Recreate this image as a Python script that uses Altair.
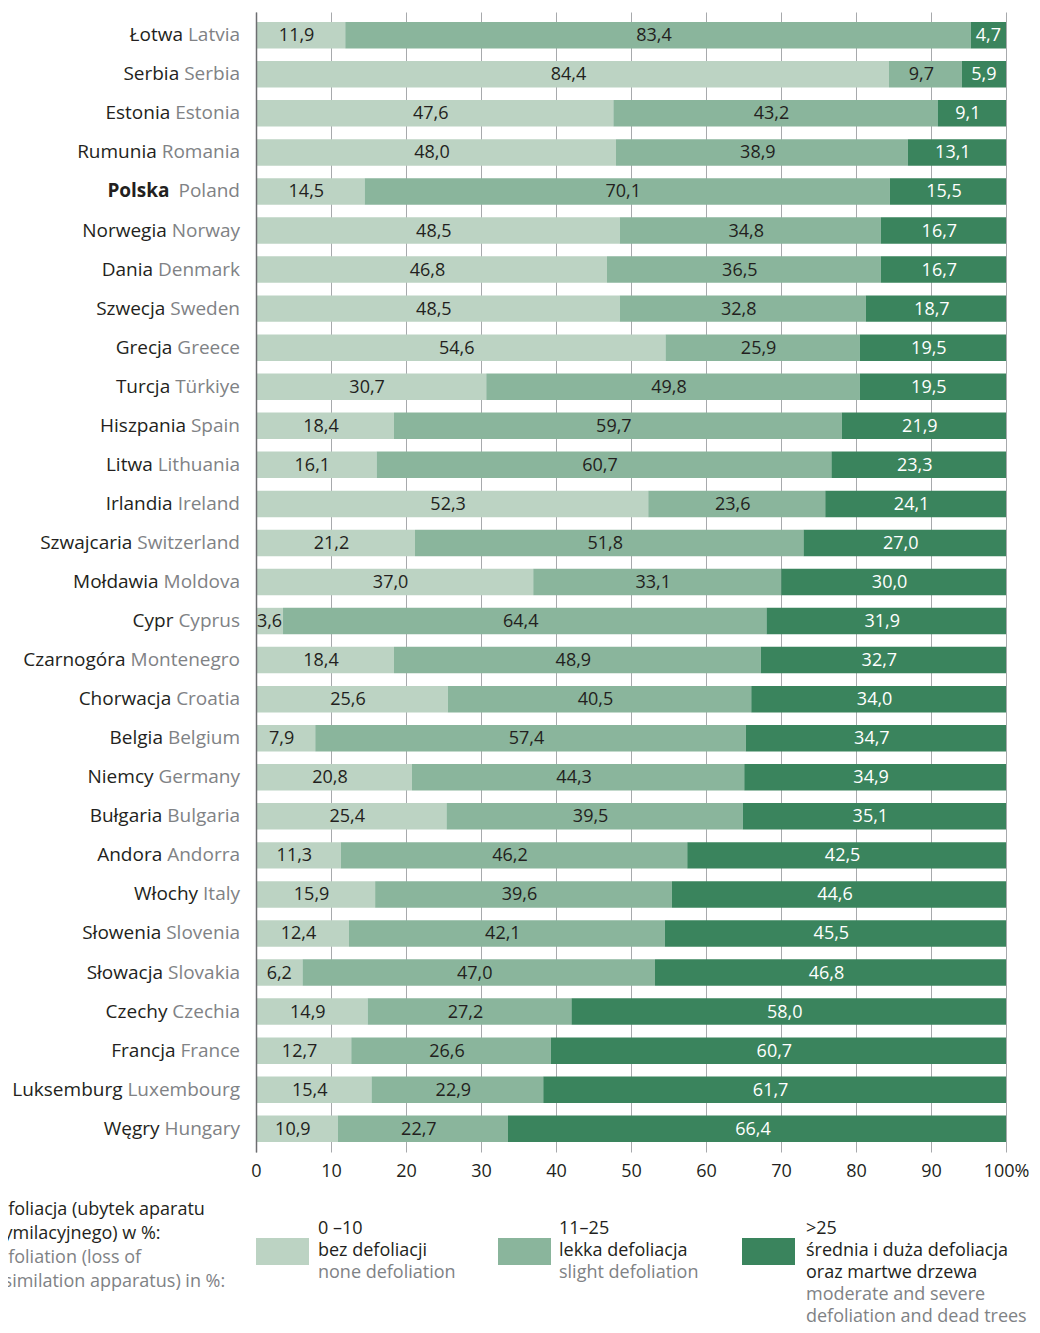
import altair as alt
import pandas as pd

countries_pl = ["Łotwa", "Serbia", "Estonia", "Rumunia", "Polska", "Norwegia", "Dania",
                "Szwecja", "Grecja", "Turcja", "Hiszpania", "Litwa", "Irlandia", "Szwajcaria",
                "Mołdawia", "Cypr", "Czarnogóra", "Chorwacja", "Belgia", "Niemcy", "Bułgaria",
                "Andora", "Włochy", "Słowenia", "Słowacja", "Czechy", "Francja", "Luksemburg",
                "Węgry"]
countries_en = ["Latvia", "Serbia", "Estonia", "Romania", "Poland", "Norway", "Denmark",
                "Sweden", "Greece", "Türkiye", "Spain", "Lithuania", "Ireland", "Switzerland",
                "Moldova", "Cyprus", "Montenegro", "Croatia", "Belgium", "Germany", "Bulgaria",
                "Andorra", "Italy", "Slovenia", "Slovakia", "Czechia", "France", "Luxembourg",
                "Hungary"]
none_def = [11.9, 84.4, 47.6, 48.0, 14.5, 48.5, 46.8, 48.5, 54.6, 30.7, 18.4, 16.1, 52.3, 21.2,
            37.0, 3.6, 18.4, 25.6, 7.9, 20.8, 25.4, 11.3, 15.9, 12.4, 6.2, 14.9, 12.7, 15.4, 10.9]
slight_def = [83.4, 9.7, 43.2, 38.9, 70.1, 34.8, 36.5, 32.8, 25.9, 49.8, 59.7, 60.7, 23.6, 51.8,
              33.1, 64.4, 48.9, 40.5, 57.4, 44.3, 39.5, 46.2, 39.6, 42.1, 47.0, 27.2, 26.6, 22.9, 22.7]
severe_def = [4.7, 5.9, 9.1, 13.1, 15.5, 16.7, 16.7, 18.7, 19.5, 19.5, 21.9, 23.3, 24.1, 27.0,
              30.0, 31.9, 32.7, 34.0, 34.7, 34.9, 35.1, 42.5, 44.6, 45.5, 46.8, 58.0, 60.7, 61.7, 66.4]
categories = ["0–10", "11–25", ">25"]
colors = ["#bcd3c3", "#8ab59c", "#3a845d"]
x_ticks = [0, 10, 20, 30, 40, 50, 60, 70, 80, 90, 100]
bold_country = "Polska"

legend_ranges = ["0 –10", "11–25", ">25"]
legend_pl = [["bez defoliacji"], ["lekka defoliacja"], ["średnia i duża defoliacja", "oraz martwe drzewa"]]
legend_en = [["none defoliation"], ["slight defoliation"], ["moderate and severe", "defoliation and dead trees"]]
legend_title_pl = ["Defoliacja (ubytek aparatu", "asymilacyjnego) w %:"]
legend_title_en = ["Defoliation (loss of", "assimilation apparatus) in %:"]

FONT = "Open Sans"
DARK = "#231f20"
GRAY = "#808285"

rows = []
series = [none_def, slight_def, severe_def]
for i, (pl, en) in enumerate(zip(countries_pl, countries_en)):
    for k, vals in enumerate(series):
        rows.append(dict(pl=pl, en=en, cat=categories[k], order=k, value=vals[i]))
df = pd.DataFrame(rows)
lab = pd.DataFrame({"pl": countries_pl, "en": countries_en,
                    "full": [p + " " + e for p, e in zip(countries_pl, countries_en)]})

yenc = alt.Y("pl:N", sort=countries_pl,
             scale=alt.Scale(paddingInner=0.322, paddingOuter=0.256),
             axis=alt.Axis(labels=False, ticks=False, title=None, grid=False,
                           domainColor="#6d6e71", domainWidth=1.5, zindex=1))

stacked = alt.Chart(df).transform_stack(
    stack="value", groupby=["pl"], as_=["start", "end"], offset="normalize",
    sort=[alt.SortField("order", order="ascending")]
).transform_calculate(
    mid="(datum.start + datum.end) / 2",
    txt="replace(format(datum.value, '.1f'), '.', ',')"
)

bars = stacked.mark_bar().encode(
    x=alt.X("start:Q", scale=alt.Scale(domain=[0, 1], nice=False),
            axis=alt.Axis(values=[t / 100 for t in x_ticks],
                          labelExpr="datum.value >= 0.999 ? '100%' : format(datum.value * 100, 'd')",
                          grid=True, gridColor="#a7a9ac", gridWidth=1, domain=False, ticks=False,
                          labelFontSize=18, labelFont=FONT, labelColor=DARK, labelPadding=10,
                          labelFlush=False, title=None)),
    x2="end:Q",
    y=yenc,
    color=alt.Color("cat:N", scale=alt.Scale(domain=categories, range=colors), legend=None),
)

value_color = alt.condition(alt.datum.cat == ">25", alt.value("white"), alt.value(DARK))
values_small = stacked.transform_filter(alt.datum.value < 6.5).mark_text(
    font=FONT, fontSize=18, baseline="middle", align="center", dy=1
).encode(x="mid:Q", y=yenc, text="txt:N", color=value_color)
values_big = stacked.transform_filter(alt.datum.value >= 6.5).mark_text(
    font=FONT, fontSize=18, baseline="middle", align="center", dy=1, dx=-4
).encode(x="mid:Q", y=yenc, text="txt:N", color=value_color)

lbl = alt.Chart(lab)
names_full = lbl.transform_filter(alt.datum.pl != bold_country).mark_text(
    font=FONT, fontSize=19, align="right", baseline="middle", dx=-16, color=DARK
).encode(x=alt.value(0), y=yenc, text="full:N")
names_full_bold = lbl.transform_filter(alt.datum.pl == bold_country).mark_text(
    font=FONT, fontSize=19, fontWeight="bold", align="right", baseline="middle", dx=-16, color=DARK
).encode(x=alt.value(0), y=yenc, text="full:N")
cover = lbl.mark_text(
    font=FONT, fontSize=19, align="right", baseline="middle", dx=-16,
    fill="white", stroke="white", strokeWidth=3
).encode(x=alt.value(0), y=yenc, text="en:N")
cover_bold = lbl.transform_filter(alt.datum.pl == bold_country).mark_text(
    font=FONT, fontSize=19, fontWeight="bold", align="right", baseline="middle", dx=-16,
    fill="white", stroke="white", strokeWidth=3
).encode(x=alt.value(0), y=yenc, text="en:N")
names_en = lbl.mark_text(
    font=FONT, fontSize=19, align="right", baseline="middle", dx=-16, color=GRAY
).encode(x=alt.value(0), y=yenc, text="en:N")

one = pd.DataFrame({"k": [0]})


def line(text, x, y, color):
    return alt.Chart(one).mark_text(
        text=text, font=FONT, fontSize=18, align="left", baseline="alphabetic", color=color
    ).encode(x=alt.value(x), y=alt.value(y))


legend_layers = []
# title block (left part is cut off by the page edge, as in the reference)
ty = 1203
for t in legend_title_pl:
    legend_layers.append(line(t, -271, ty, DARK))
    ty += 24
for t in legend_title_en:
    legend_layers.append(line(t, -271, ty, GRAY))
    ty += 24

sw_x = [0, 242, 486]
tx_x = [62, 303, 550]
for i in range(3):
    legend_layers.append(
        alt.Chart(one).mark_rect(color=colors[i]).encode(
            x=alt.value(sw_x[i]), x2=alt.value(sw_x[i] + 53),
            y=alt.value(1226), y2=alt.value(1253))
    )
    ly = 1222
    legend_layers.append(line(legend_ranges[i], tx_x[i], ly, DARK))
    ly += 22
    for t in legend_pl[i]:
        legend_layers.append(line(t, tx_x[i], ly, DARK))
        ly += 22
    for t in legend_en[i]:
        legend_layers.append(line(t, tx_x[i], ly, GRAY))
        ly += 22

chart = alt.layer(
    bars, values_small, values_big, names_full, names_full_bold, cover, cover_bold, names_en,
    *legend_layers
).properties(
    width=750, height=1140,
    padding={"left": 248, "top": 4, "right": 26, "bottom": 173},
    autosize=alt.AutoSizeParams(type="none"),
).configure_view(stroke=None)

chart.save("out.html", embed_options={"renderer": "svg", "actions": False})
